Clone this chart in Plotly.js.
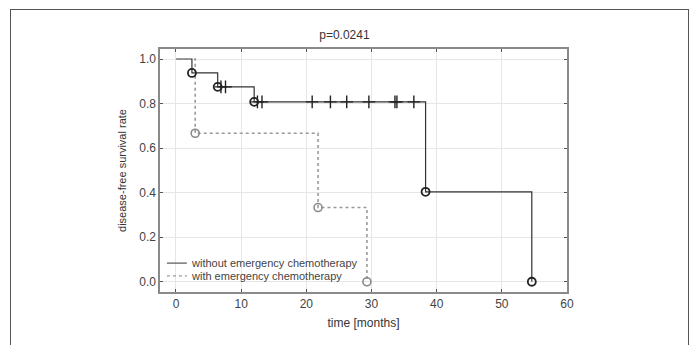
<!DOCTYPE html>
<html>
<head>
<meta charset="utf-8">
<script src="https://cdn.plot.ly/plotly-3.0.1.min.js"></script>
<style>
html,body{margin:0;padding:0;background:#fff;}
#wrap{position:relative;width:693px;height:345px;overflow:hidden;}
#chart{width:693px;height:345px;}
#frame{position:absolute;left:10px;top:9px;width:677px;height:400px;border:1.5px solid #555;pointer-events:none;}
</style>
</head>
<body>
<div id="wrap"><div id="chart"></div><div id="frame"></div></div>
<script>
// Group without emergency chemotherapy (Kaplan-Meier steps)
const timeWithout = [0, 2.45, 6.4, 12.0, 38.3, 54.6];
const survWithout = [1.0, 0.9375, 0.875, 0.8077, 0.4038, 0.0];
// censored observations (without)
const censTimeWithout = [6.9, 7.6, 12.5, 13.2, 20.9, 23.7, 26.2, 29.6, 33.6, 33.9, 36.5];
const censSurvWithout = [0.875, 0.875, 0.8077, 0.8077, 0.8077, 0.8077, 0.8077, 0.8077, 0.8077, 0.8077, 0.8077];
// Group with emergency chemotherapy
const timeWith = [0, 2.95, 21.8, 29.3];
const survWith = [1.0, 0.6667, 0.3333, 0.0];

const seriesNames = ['without emergency chemotherapy', 'with emergency chemotherapy'];
const xTicks = [0, 10, 20, 30, 40, 50, 60];
const yTicks = [0.0, 0.2, 0.4, 0.6, 0.8, 1.0];
const yTickLabels = ['0.0', '0.2', '0.4', '0.6', '0.8', '1.0'];

const lineStyles = [
  {shape: 'hv', color: '#333', width: 1.2},
  {shape: 'hv', color: '#9a9a9a', width: 1.6, dash: 'dot'}
];

const traces = [
  {x: timeWithout, y: survWithout, mode: 'lines', line: lineStyles[0], name: seriesNames[0], showlegend: false},
  {x: timeWith, y: survWith, mode: 'lines', line: lineStyles[1], name: seriesNames[1], showlegend: false},
  {x: timeWithout.slice(1), y: survWithout.slice(1), mode: 'markers', showlegend: false,
   marker: {symbol: 'circle-open', size: 8, color: '#222', line: {width: 1.8, color: '#222'}}},
  {x: timeWith.slice(1), y: survWith.slice(1), mode: 'markers', showlegend: false,
   marker: {symbol: 'circle-open', size: 8, color: '#8a8a8a', line: {width: 1.6, color: '#8a8a8a'}}},
  {x: censTimeWithout, y: censSurvWithout, mode: 'markers', showlegend: false,
   marker: {symbol: 'cross-thin-open', size: 9, color: '#222', line: {width: 1.4, color: '#222'}}}
];

// manual legend (compact, like the reference)
const legRowY = [0.119, 0.066];
const shapes = [];
const annotations = [];
seriesNames.forEach((nm, i) => {
  shapes.push({type: 'line', xref: 'paper', yref: 'paper', x0: 0.017, x1: 0.066, y0: legRowY[i], y1: legRowY[i],
               line: {color: lineStyles[i].color, width: i === 0 ? 1 : 1.2, dash: i === 0 ? 'solid' : 'dot'}});
  annotations.push({xref: 'paper', yref: 'paper', x: 0.071, y: legRowY[i], xanchor: 'left', yanchor: 'middle',
                    text: nm, showarrow: false, font: {size: 11, color: '#444'}});
});

const layout = {
  width: 693, height: 345,
  margin: {l: 160, r: 126, t: 49, b: 53},
  paper_bgcolor: '#fff', plot_bgcolor: '#fff',
  font: {family: 'Liberation Sans, Arial, sans-serif', color: '#333', size: 12},
  title: {text: 'p=0.0241', x: 0.497, xref: 'container', xanchor: 'center', y: 0.9, yref: 'container', yanchor: 'middle',
          font: {size: 12, color: '#333'}},
  showlegend: false,
  shapes: shapes,
  annotations: annotations,
  xaxis: {range: [-2.45, 60], tickvals: xTicks, ticktext: xTicks.map(String),
          showgrid: true, gridcolor: '#e6e6e6', gridwidth: 1, zeroline: false,
          showline: true, linecolor: '#8a8a8a', linewidth: 1.6, mirror: 'ticks',
          ticks: 'inside', ticklen: 3, tickcolor: '#555', tickfont: {size: 12, color: '#444'},
          title: {text: 'time [months]', font: {size: 12, color: '#333'}, standoff: 8}},
  yaxis: {range: [-0.046, 1.045], tickvals: yTicks, ticktext: yTickLabels,
          showgrid: true, gridcolor: '#e6e6e6', gridwidth: 1, zeroline: false,
          showline: true, linecolor: '#8a8a8a', linewidth: 1.6, mirror: 'ticks',
          ticks: 'inside', ticklen: 3, tickcolor: '#555', tickfont: {size: 12, color: '#444'},
          title: {text: 'disease-free survival rate', font: {size: 11, color: '#333'}, standoff: 10}}
};

Plotly.newPlot('chart', traces, layout, {displayModeBar: false, staticPlot: true});
</script>
</body>
</html>
